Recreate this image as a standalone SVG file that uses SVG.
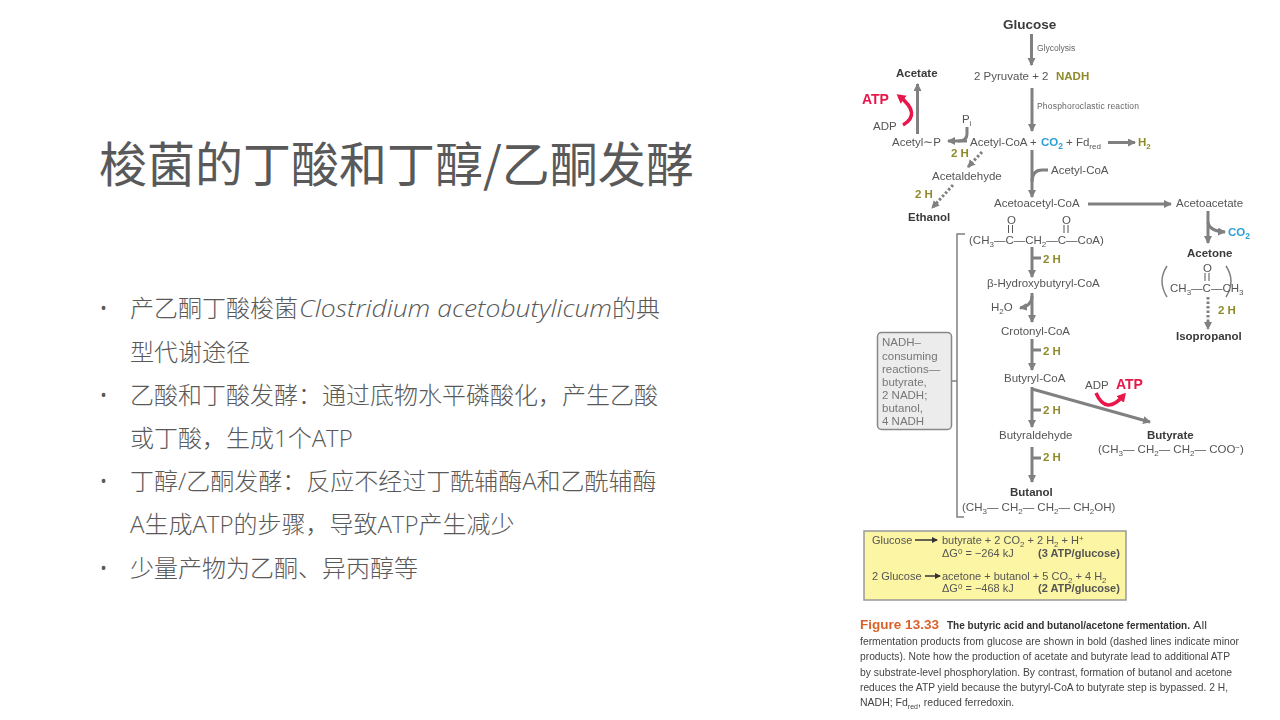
<svg xmlns="http://www.w3.org/2000/svg" width="1280" height="720" viewBox="0 0 1280 720">
<style>
.t{font-family:"Liberation Sans",Arial,sans-serif;font-size:11.5px;fill:#555}
.b{font-weight:bold;fill:#3a3a3a;font-size:11.5px}
.o{font-weight:bold;fill:#8f8a2a}
.c{font-weight:bold;fill:#2a9fd8}
.r{font-weight:bold;fill:#e8174a;font-size:14px}
.s{font-size:8.5px;fill:#666}
.n{font-size:11.5px;fill:#777}
.y{font-size:11px;fill:#555}
.cap{font-size:10.5px;fill:#444}
.capb{font-size:10.5px;fill:#333;font-weight:bold}
.h{font-family:"Noto Sans CJK SC",sans-serif;fill:#595959}
.body{font-family:"Open Sans","Noto Sans CJK SC",sans-serif;font-size:24px;fill:#595959;font-weight:300}
.a{fill:none;stroke:#808080;stroke-width:3}
.thin{fill:none;stroke:#808080;stroke-width:1.5}
.d{fill:none;stroke:#808080;stroke-width:3;stroke-dasharray:2.5 2}
.red{fill:none;stroke:#e8174a;stroke-width:3.5}
.k{fill:none;stroke:#555;stroke-width:1}
</style>
<defs>
<marker id="ah" markerUnits="userSpaceOnUse" markerWidth="9" markerHeight="9" refX="7" refY="4" orient="auto"><path d="M0 0L8 4L0 8Z" fill="#808080"/></marker>
<marker id="ar" markerUnits="userSpaceOnUse" markerWidth="11" markerHeight="11" refX="6" refY="5" orient="auto"><path d="M0 0L9 5L0 10Z" fill="#e8174a"/></marker>
<marker id="ak" markerUnits="userSpaceOnUse" markerWidth="7" markerHeight="7" refX="5" refY="3" orient="auto"><path d="M0 0L6 3L0 6Z" fill="#333"/></marker>
<filter id="soft" x="0" y="0" width="1" height="1"><feGaussianBlur stdDeviation="0.35"/></filter>
</defs>
<rect width="1280" height="720" fill="#fff"/>
<text id="title" class="h" x="99" y="182" font-size="48">梭菌的丁酸和丁醇/乙酮发酵</text>
<g id="bullets" class="body">
<text x="99" y="317">•</text><text x="130" y="317">产乙酮丁酸梭菌</text><text x="299" y="317" font-style="italic" textLength="313" lengthAdjust="spacingAndGlyphs">Clostridium acetobutylicum</text><text x="612" y="317">的典</text>
<text x="130" y="361">型代谢途径</text>
<text x="99" y="404">•</text><text x="130" y="404">乙酸和丁酸发酵：通过底物水平磷酸化，产生乙酸</text>
<text x="130" y="447">或丁酸，生成1个ATP</text>
<text x="99" y="490">•</text><text x="130" y="490">丁醇/乙酮发酵：反应不经过丁酰辅酶A和乙酰辅酶</text>
<text x="130" y="533">A生成ATP的步骤，导致ATP产生减少</text>
<text x="99" y="577">•</text><text x="130" y="577">少量产物为乙酮、异丙醇等</text>
</g>
<g id="figure" filter="url(#soft)">
<g id="connectors">
<path class="a" d="M1031.5 34V65" marker-end="url(#ah)"/>
<path class="a" d="M1032 88V131" marker-end="url(#ah)"/>
<path class="a" d="M917.5 134V84" marker-end="url(#ah)"/>
<path class="a" d="M967 141H948" marker-end="url(#ah)"/>
<path class="a" d="M967 127V134Q967 141 958 141"/>
<path class="a" d="M1108 142.500H1135" marker-end="url(#ah)"/>
<path class="d" d="M982 152L968 167" marker-end="url(#ah)"/>
<path class="d" d="M953 185L932 208" marker-end="url(#ah)"/>
<path class="a" d="M1032 150V197" marker-end="url(#ah)"/>
<path class="a" d="M1048 170H1042Q1032 170 1032 182"/>
<path class="a" d="M1088 204H1171" marker-end="url(#ah)"/>
<path class="a" d="M1208 211V243" marker-end="url(#ah)"/>
<path class="a" d="M1208 222Q1209 231 1225 232" marker-end="url(#ah)"/>
<path class="d" d="M1208 297V329" marker-end="url(#ah)"/>
<path class="a" d="M1032 247V277" marker-end="url(#ah)"/>
<path class="a" d="M1032 258H1041"/>
<path class="a" d="M1032 293V322" marker-end="url(#ah)"/>
<path class="a" d="M1032 296Q1032 306 1020 308" marker-end="url(#ah)"/>
<path class="a" d="M1032 339V370" marker-end="url(#ah)"/>
<path class="a" d="M1032 350H1041"/>
<path class="a" d="M1032 387V427" marker-end="url(#ah)"/>
<path class="a" d="M1032 410H1041"/>
<path class="a" d="M1032 389L1150 422" marker-end="url(#ah)"/>
<path class="a" d="M1032 447V482" marker-end="url(#ah)"/>
<path class="a" d="M1032 458H1041"/>
<path class="red" d="M903 125Q922 114 899 96" marker-end="url(#ar)"/>
<path class="red" d="M1096 393Q1106 416 1124 395" marker-end="url(#ar)"/>
<path class="thin" d="M965 234H957V517H964M952 381H957"/>
<path class="k" d="M1008.500 225V233M1012.500 225V233M1064 225V233M1068 225V233M1205 273V281M1209 273V281"/>
<path class="thin" fill="none" d="M1167 266Q1157 281 1167 297M1226 266Q1236 281 1226 297"/>
</g>
<g id="glucose"><text class="t b" x="1003" y="29" style="font-size:13.500px">Glucose</text></g>
<g id="glycolysis"><text class="t s" x="1037" y="51">Glycolysis</text></g>
<g id="pyruvate"><text class="t" x="974" y="80">2 Pyruvate  + 2 </text><text class="t o" x="1056" y="80">NADH</text></g>
<g id="phospho"><text class="t s" x="1037" y="109" textLength="102">Phosphoroclastic reaction</text></g>
<g id="acetate"><text class="t b" x="896" y="77">Acetate</text></g>
<g id="atp1"><text class="t r" x="862" y="104">ATP</text></g>
<g id="adp1"><text class="t" x="873" y="130">ADP</text></g>
<g id="acetylp"><text class="t" x="892" y="146">Acetyl∼P</text></g>
<g id="pi"><text class="t" x="962" y="123">P<tspan font-size="8" dy="3">i</tspan></text></g>
<g id="acetylcoa"><text class="t" x="970" y="146">Acetyl-CoA +</text><text class="t c" x="1041" y="146">CO<tspan font-size="8.500" dy="3">2</tspan></text><text class="t" x="1066" y="146">+ Fd<tspan font-size="8" dy="3">red</tspan></text></g>
<g id="h2"><text class="t o" x="1138" y="146">H<tspan font-size="8" dy="3">2</tspan></text></g>
<g id="twoh1"><text class="t o" x="951" y="157">2 H</text></g>
<g id="acetaldehyde"><text class="t" x="932" y="180">Acetaldehyde</text></g>
<g id="twoh2"><text class="t o" x="915" y="198">2 H</text></g>
<g id="ethanol"><text class="t b" x="908" y="221">Ethanol</text></g>
<g id="acetylcoa2"><text class="t" x="1051" y="174">Acetyl-CoA</text></g>
<g id="acetoacetylcoa"><text class="t" x="994" y="207">Acetoacetyl-CoA</text></g>
<g id="acetoacetate"><text class="t" x="1176" y="207">Acetoacetate</text></g>
<g id="co2b"><text class="t c" x="1228" y="236">CO<tspan font-size="8.500" dy="3">2</tspan></text></g>
<g id="acetone"><text class="t b" x="1187" y="257">Acetone</text></g>
<g id="acetoneformula"><text class="t" x="1203" y="272">O</text><text class="t" x="1170" y="292">CH<tspan font-size="8" dy="3">3</tspan><tspan dy="-3">—C—CH</tspan><tspan font-size="8" dy="3">3</tspan></text></g>
<g id="twoh3"><text class="t o" x="1218" y="314">2 H</text></g>
<g id="isopropanol"><text class="t b" x="1176" y="340">Isopropanol</text></g>
<g id="aaformula"><text class="t" x="1007" y="224">O</text><text class="t" x="1062" y="224">O</text><text class="t" x="969" y="244">(CH<tspan font-size="8" dy="3">3</tspan><tspan dy="-3">—C—CH</tspan><tspan font-size="8" dy="3">2</tspan><tspan dy="-3">—C—CoA)</tspan></text></g>
<g id="twoh4"><text class="t o" x="1043" y="263">2 H</text></g>
<g id="hydroxy"><text class="t" x="987" y="287">β-Hydroxybutyryl-CoA</text></g>
<g id="h2o"><text class="t" x="991" y="311">H<tspan font-size="8" dy="3">2</tspan><tspan dy="-3">O</tspan></text></g>
<g id="crotonyl"><text class="t" x="1001" y="335">Crotonyl-CoA</text></g>
<g id="twoh5"><text class="t o" x="1043" y="355">2 H</text></g>
<g id="butyrylcoa"><text class="t" x="1004" y="382">Butyryl-CoA</text></g>
<g id="adp2"><text class="t" x="1085" y="389">ADP</text></g>
<g id="atp2"><text class="t r" x="1116" y="389">ATP</text></g>
<g id="twoh6"><text class="t o" x="1043" y="414">2 H</text></g>
<g id="butyraldehyde"><text class="t" x="999" y="439">Butyraldehyde</text></g>
<g id="twoh7"><text class="t o" x="1043" y="461">2 H</text></g>
<g id="butyrate"><text class="t b" x="1147" y="439">Butyrate</text><text class="t" x="1098" y="453">(CH<tspan font-size="8" dy="3">3</tspan><tspan dy="-3">— CH</tspan><tspan font-size="8" dy="3">2</tspan><tspan dy="-3">— CH</tspan><tspan font-size="8" dy="3">2</tspan><tspan dy="-3">— COO</tspan><tspan font-size="8" dy="-3">−</tspan><tspan dy="3">)</tspan></text></g>
<g id="butanol"><text class="t b" x="1010" y="496">Butanol</text><text class="t" x="962" y="511">(CH<tspan font-size="8" dy="3">3</tspan><tspan dy="-3">— CH</tspan><tspan font-size="8" dy="3">2</tspan><tspan dy="-3">— CH</tspan><tspan font-size="8" dy="3">2</tspan><tspan dy="-3">— CH</tspan><tspan font-size="8" dy="3">2</tspan><tspan dy="-3">OH)</tspan></text></g>
<g id="nadhbox">
<rect x="877.500" y="332.500" width="74" height="97" rx="4" fill="#ececec" stroke="#888" stroke-width="1.500"/>
<text class="t n" x="882" y="346">NADH–</text><text class="t n" x="882" y="360">consuming</text><text class="t n" x="882" y="373">reactions—</text><text class="t n" x="882" y="386">butyrate,</text><text class="t n" x="882" y="399">2 NADH;</text><text class="t n" x="882" y="412">butanol,</text><text class="t n" x="882" y="425">4 NADH</text>
</g>
<g id="summary">
<rect x="864" y="531" width="262" height="69" fill="#fbf5a4" stroke="#999" stroke-width="1.500"/>
<path class="k" d="M915 540H937" style="stroke:#333;stroke-width:1.500" marker-end="url(#ak)"/>
<path class="k" d="M925 576H940" style="stroke:#333;stroke-width:1.500" marker-end="url(#ak)"/>
<text class="t y" x="872" y="544">Glucose</text>
<text class="t y" x="942" y="544">butyrate + 2 CO<tspan font-size="8" dy="3">2</tspan><tspan dy="-3"> + 2 H</tspan><tspan font-size="8" dy="3">2</tspan><tspan dy="-3"> + H</tspan><tspan font-size="8" dy="-3">+</tspan></text>
<text class="t y" x="942" y="557">ΔG<tspan font-size="8" dy="-3">0</tspan><tspan dy="3"> = −264 kJ</tspan></text>
<text class="t y" x="1038" y="557" font-weight="bold">(3 ATP/glucose)</text>
<text class="t y" x="872" y="580">2 Glucose</text>
<text class="t y" x="942" y="580">acetone + butanol + 5 CO<tspan font-size="8" dy="3">2</tspan><tspan dy="-3"> + 4 H</tspan><tspan font-size="8" dy="3">2</tspan></text>
<text class="t y" x="942" y="592">ΔG<tspan font-size="8" dy="-3">0</tspan><tspan dy="3"> = −468 kJ</tspan></text>
<text class="t y" x="1038" y="592" font-weight="bold">(2 ATP/glucose)</text>
</g>
<g id="caption">
<text class="t" x="860" y="629" style="font-size:13.500px;font-weight:bold;fill:#d9622b" textLength="79" lengthAdjust="spacingAndGlyphs">Figure 13.33</text>
<text class="t capb" x="947" y="629" textLength="243" lengthAdjust="spacingAndGlyphs">The butyric acid and butanol/acetone fermentation.</text>
<text class="t cap" x="1193" y="629" textLength="14" lengthAdjust="spacingAndGlyphs">All</text>
<text class="t cap" x="860" y="645" textLength="379" lengthAdjust="spacingAndGlyphs">fermentation products from glucose are shown in bold (dashed lines indicate minor</text>
<text class="t cap" x="860" y="660" textLength="370" lengthAdjust="spacingAndGlyphs">products). Note how the production of acetate and butyrate lead to additional ATP</text>
<text class="t cap" x="860" y="676" textLength="372" lengthAdjust="spacingAndGlyphs">by substrate-level phosphorylation. By contrast, formation of butanol and acetone</text>
<text class="t cap" x="860" y="691" textLength="368" lengthAdjust="spacingAndGlyphs">reduces the ATP yield because the butyryl-CoA to butyrate step is bypassed. 2 H,</text>
<text class="t cap" x="860" y="706">NADH; Fd<tspan font-size="7" dy="3">red</tspan><tspan dy="-3">, reduced ferredoxin.</tspan></text>
</g>
</g>
</svg>
